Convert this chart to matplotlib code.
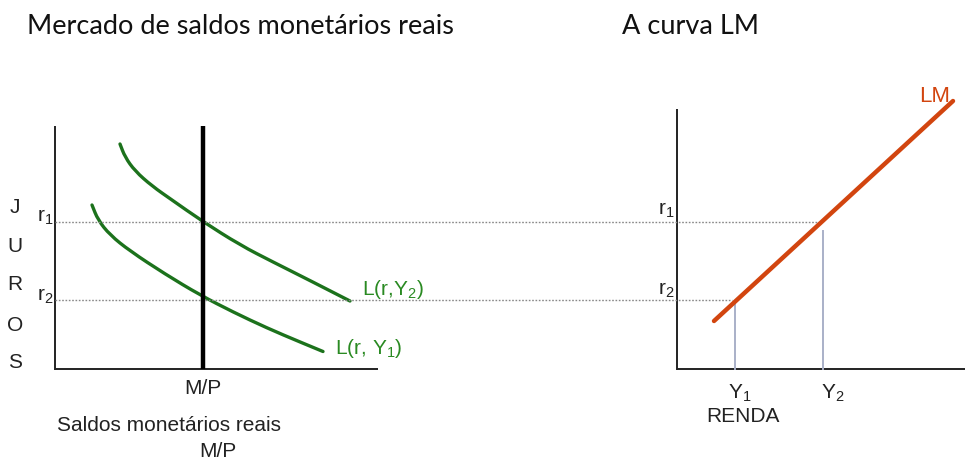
import matplotlib
matplotlib.use("Agg")
import matplotlib.pyplot as plt
from matplotlib.path import Path
from matplotlib.patches import PathPatch

plt.rcParams['font.family'] = ['Liberation Sans', 'DejaVu Sans']
plt.rcParams['mathtext.fontset'] = 'custom'
plt.rcParams['mathtext.rm'] = 'Liberation Sans'
plt.rcParams['mathtext.it'] = 'Liberation Sans'
plt.rcParams['mathtext.default'] = 'regular'

# ---- data (in figure pixel units) ----
curve_y2_x = [120, 125, 135, 152, 172, 202, 240, 273, 307, 350]
curve_y2_y = [145, 158, 172, 187, 201, 222, 246, 263, 280, 302]
curve_y1_x = [92, 98, 110, 130, 165, 200, 233, 267, 300, 323]
curve_y1_y = [206, 221, 236, 252, 275, 296, 313, 329, 343, 352.5]
r_levels = [223, 301]            # r1, r2
r_ends = [817, 732]              # where the dotted r lines stop (on LM)
money_supply_x = 203             # M/P
lm_x = [714, 953]
lm_y = [322, 102]
y_levels = [735, 823]            # Y1, Y2
y_tops = [302, 232]
juros_letters = ['J', 'U', 'R', 'O', 'S']
juros_y = [208, 247, 285, 326, 363]

GREEN = '#1c721c'
GREEN_TXT = '#2a8a22'
RED = '#d2450f'

fig = plt.figure(figsize=(9.65, 4.6), dpi=100)
ax = fig.add_axes([0, 0, 1, 1])
ax.set_xlim(0, 965)
ax.set_ylim(460, 0)
ax.axis('off')


def smooth_curve(xs, ys, **kw):
    """Draw a smooth quadratic B-spline style path through read points."""
    pts = list(zip(xs, ys))
    verts = [pts[0]]
    codes = [Path.MOVETO]
    m = ((pts[0][0] + pts[1][0]) / 2, (pts[0][1] + pts[1][1]) / 2)
    verts.append(m)
    codes.append(Path.LINETO)
    for i in range(1, len(pts) - 1):
        nxt = pts[i + 1]
        if i < len(pts) - 2:
            end = ((pts[i][0] + nxt[0]) / 2, (pts[i][1] + nxt[1]) / 2)
        else:
            end = nxt
        verts += [pts[i], end]
        codes += [Path.CURVE3, Path.CURVE3]
    patch = PathPatch(Path(verts, codes), fill=False, **kw)
    ax.add_patch(patch)


# axes of left panel
ax.plot([55, 55], [127, 371], color='#222222', lw=1.4, solid_capstyle='butt')
ax.plot([55, 378], [370, 370], color='#222222', lw=1.4, solid_capstyle='butt')
# axes of right panel
ax.plot([677, 677], [110, 371], color='#222222', lw=1.4, solid_capstyle='butt')
ax.plot([677, 965], [370, 370], color='#222222', lw=1.4, solid_capstyle='butt')

# dotted r lines
for r, e in zip(r_levels, r_ends):
    ax.plot([55, e], [r, r], color='#888888', lw=1.0, linestyle=(0, (1.2, 1.2)))

# Y verticals
for yx, top in zip(y_levels, y_tops):
    ax.plot([yx, yx], [top, 370], color='#a9b0c8', lw=1.4)

# money supply
ax.plot([money_supply_x, money_supply_x], [127, 370], color='black', lw=3.2, solid_capstyle='butt')

# money demand curves
smooth_curve(curve_y2_x, curve_y2_y, edgecolor=GREEN, lw=2.4, capstyle='round', joinstyle='round')
smooth_curve(curve_y1_x, curve_y1_y, edgecolor=GREEN, lw=2.4, capstyle='round', joinstyle='round')

# LM
ax.plot(lm_x, lm_y, color=RED, lw=3.2, solid_capstyle='round')

# titles
tfont = ['Lato', 'DejaVu Sans']
ax.text(27, 26, 'Mercado de saldos monetários reais', family=tfont, fontsize=19.5,
        ha='left', va='center', color='#111111')
ax.text(622, 26, 'A curva LM', family=tfont, fontsize=19.5, ha='left', va='center', color='#111111')

fs = 15
for ch, yy in zip(juros_letters, juros_y):
    ax.text(15, yy, ch, fontsize=fs, ha='center', va='center', color='#222222')

ax.text(37, 217, r'r$_1$', fontsize=fs, ha='left', va='center', color='#222222')
ax.text(37, 296, r'r$_2$', fontsize=fs, ha='left', va='center', color='#222222')
ax.text(658, 210, r'r$_1$', fontsize=fs, ha='left', va='center', color='#222222')
ax.text(658, 290, r'r$_2$', fontsize=fs, ha='left', va='center', color='#222222')

ax.text(money_supply_x, 389, 'M/P', fontsize=fs, ha='center', va='center', color='#222222')
ax.text(57, 426, 'Saldos monetários reais', fontsize=fs, ha='left', va='center', color='#222222')
ax.text(218, 452, 'M/P', fontsize=fs, ha='center', va='center', color='#222222')

ax.text(362, 290, r'L(r,Y$_2$)', fontsize=fs, ha='left', va='center', color=GREEN_TXT)
ax.text(335, 349, r'L(r, Y$_1$)', fontsize=fs, ha='left', va='center', color=GREEN_TXT)

ax.text(y_levels[0] + 5, 393, r'Y$_1$', fontsize=fs, ha='center', va='center', color='#222222')
ax.text(y_levels[1] + 10, 393, r'Y$_2$', fontsize=fs, ha='center', va='center', color='#222222')
ax.text(743, 417, 'RENDA', fontsize=fs, ha='center', va='center', color='#222222')

ax.text(935, 96, 'LM', fontsize=16, ha='center', va='center', color=RED)

fig.savefig('out.png', dpi=100)
